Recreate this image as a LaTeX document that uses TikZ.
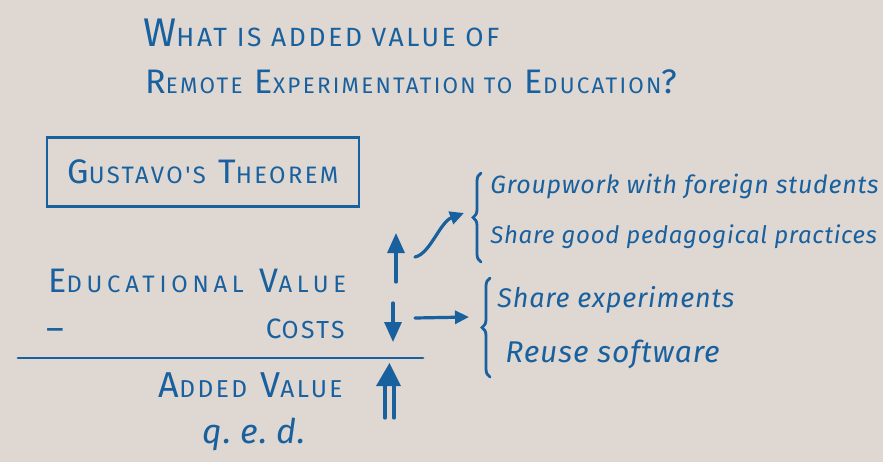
\documentclass[tikz,border=0pt]{standalone}
\usepackage{fontspec}
\setmainfont{Fira Sans}
\newfontfamily\capsfont[LetterSpace=10]{Fira Sans}
\newfontfamily\widecapsfont[LetterSpace=20]{Fira Sans}
\newfontfamily\handfont[LetterSpace=3]{Fira Sans}
\usetikzlibrary{arrows.meta,decorations.pathreplacing}
\definecolor{ink}{RGB}{24,96,158}
\definecolor{paper}{RGB}{222,215,210}
\newcommand\smc[2][0.68]{\scalebox{#1}{#2}}

\begin{document}
\begin{tikzpicture}[x=0.5pt,y=-0.5pt,
  caps/.style={text=ink,inner sep=0pt,font=\capsfont\fontsize{#1}{#1}\selectfont},
  wide caps/.style={text=ink,inner sep=0pt,font=\widecapsfont\fontsize{#1}{#1}\selectfont},
  hand/.style={text=ink,inner sep=0pt,font=\handfont\itshape\fontsize{#1}{#1}\selectfont},
  ink line/.style={draw=ink,line width=1.6pt,line cap=round},
  big tip/.style={ink line,-{Triangle[width=8.5pt,length=10pt]}},
  small tip/.style={ink line,-{Triangle[width=6.5pt,length=7pt]}},
  curly/.style={ink line,line width=1.4pt,decorate,decoration={brace,amplitude=4pt}}
  ]
  \useasboundingbox[fill=paper] (0,0) rectangle (883,462);

  % question
  \node[caps=20,anchor=base west] (title1) at (143,46) {W\smc[0.66]{HAT IS ADDED VALUE OF}};
  \node[caps=17,anchor=base west] (title2) at (145,93) {R\smc[0.66]{EMOTE} E\smc[0.66]{XPERIMENTATION TO} E\smc[0.66]{DUCATION}?};

  \node[caps=17,draw=ink,line width=1.3pt,minimum width=156pt,minimum height=34.5pt] (theorem) at (203,172)
    {G\smc[0.7]{USTAVO'S} T\smc[0.7]{HEOREM}};

  % the sum
  \node[wide caps=17,anchor=base west] (eduval) at (48,292) {E\smc[0.7]{DUCATIONAL} V\smc[0.7]{ALUE}};
  \node[caps=17] (minus) at (55,335) {–};
  \node[caps=14,anchor=base east] (costs) at (345,338) {C\smc[0.88]{OSTS}};
  \coordinate (rule a) at (18,358);
  \coordinate (rule b) at (423,358);
  \draw[ink line,line width=1.4pt] (rule a) -- (rule b);
  \node[caps=18,anchor=base east] (addval) at (343,397) {A\smc{DDED} V\smc{ALUE}};
  \node[hand=17,anchor=base west] (qed) at (202,443) {q.\;e.\;d.};

  % arrows
  \coordinate (up a) at (396,282);
  \coordinate (up b) at (396,233);
  \draw[big tip] (up a) -- (up b);
  \coordinate (down a) at (393,303);
  \coordinate (down b) at (393,342);
  \draw[big tip] (down a) -- (down b);
  \coordinate (bend a) at (415,257);
  \coordinate (bend b) at (464,213);
  \draw[small tip] (bend a) .. controls (430,254) and (440,222) .. (bend b);
  \coordinate (right a) at (415,318);
  \coordinate (right b) at (469,317);
  \draw[small tip] (right a) -- (right b);
  \draw[ink line] (385,418) -- (385,382) (394,418) -- (394,382);
  \fill[ink] (376,386) -- (389.5,363) -- (401,386) -- cycle;

  % lists
  \draw[curly] (481,262) -- (481,173);
  \node[hand=12.5,anchor=base west] (group) at (490,193) {Groupwork with foreign students};
  \node[hand=12,anchor=base west] (pedag) at (490,243) {Share good pedagogical practices};
  \draw[curly] (490,377) -- (490,278);
  \node[hand=13.5,anchor=base west] (shexp) at (497,307) {Share experiments};
  \node[hand=15,anchor=base west] (reuse) at (505,362) {Reuse software};
\end{tikzpicture}
\end{document}
